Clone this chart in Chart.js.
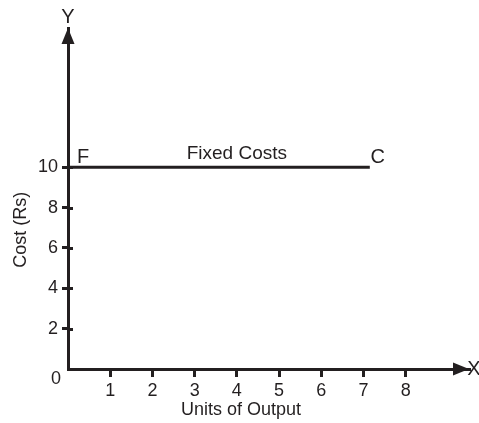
<!DOCTYPE html>
<html>
<head>
<meta charset="utf-8">
<script src="https://cdn.jsdelivr.net/npm/chart.js@4"></script>
<style>
  body { margin: 0; background: #fff; }
  canvas { display: block; }
</style>
</head>
<body>
<canvas id="costChart" width="479" height="423"></canvas>
<script>
// data
const units = [0, 7.15];
const fixedCost = [10, 10];
const xTicks = [1, 2, 3, 4, 5, 6, 7, 8];
const yTicks = [2, 4, 6, 8, 10];

const ink = '#231f20';
const family = '"Liberation Sans", Arial, sans-serif';

// arrows + text labels on top of the axes
const annotations = {
  id: 'annotations',
  afterDraw(chart) {
    const ctx = chart.ctx;
    const xs = chart.scales.x;
    const ys = chart.scales.y;
    const x0 = xs.getPixelForValue(0);
    const y0 = ys.getPixelForValue(0);
    const top = chart.chartArea.top;
    const right = chart.chartArea.right;

    ctx.save();
    ctx.fillStyle = ink;
    ctx.strokeStyle = ink;

    // y tick marks poke a little inside the axis too
    ctx.lineWidth = 3;
    yTicks.forEach(v => {
      const py = Math.round(ys.getPixelForValue(v)) + 0.5;
      ctx.beginPath();
      ctx.moveTo(x0, py);
      ctx.lineTo(x0 + 5, py);
      ctx.stroke();
    });

    // Y arrow
    ctx.beginPath();
    ctx.moveTo(x0, top);
    ctx.lineTo(x0 - 6.5, top + 16);
    ctx.lineTo(x0 + 6.5, top + 16);
    ctx.closePath();
    ctx.fill();

    // X arrow
    ctx.beginPath();
    ctx.moveTo(right, y0);
    ctx.lineTo(right - 16, y0 - 6.5);
    ctx.lineTo(right - 16, y0 + 6.5);
    ctx.closePath();
    ctx.fill();

    ctx.textBaseline = 'middle';
    ctx.textAlign = 'center';
    ctx.font = '20px ' + family;
    ctx.fillText('Y', x0, top - 11);
    ctx.fillText('X', right + 5, y0);

    const yLine = ys.getPixelForValue(fixedCost[0]);
    ctx.fillText('F', x0 + 15, yLine - 10);
    ctx.fillText('C', xs.getPixelForValue(units[1]) + 8, yLine - 10);

    ctx.font = '19px ' + family;
    ctx.fillText('Fixed Costs', xs.getPixelForValue(4), yLine - 13);

    ctx.font = '18px ' + family;
    ctx.fillText('0', x0 - 12, y0 + 10);
    ctx.fillText('Units of Output', xs.getPixelForValue(4.1), y0 + 41);

    // rotated y title
    ctx.translate(21, ys.getPixelForValue(6.9));
    ctx.rotate(-Math.PI / 2);
    ctx.fillText('Cost (Rs)', 0, 0);
    ctx.restore();
  }
};

new Chart(document.getElementById('costChart'), {
  type: 'scatter',
  data: {
    datasets: [{
      label: 'Fixed Costs',
      data: units.map((u, i) => ({ x: u, y: fixedCost[i] })),
      showLine: true,
      borderColor: ink,
      borderWidth: 3,
      pointRadius: 0
    }]
  },
  options: {
    responsive: false,
    animation: false,
    layout: { padding: { top: 28, right: 10, left: 0, bottom: 0 } },
    plugins: { legend: { display: false }, tooltip: { enabled: false } },
    scales: {
      x: {
        type: 'linear',
        min: 0,
        max: 9.5,
        afterBuildTicks: axis => { axis.ticks = xTicks.map(v => ({ value: v })); },
        afterFit: axis => { axis.height = 54; },
        border: { color: ink, width: 3 },
        grid: { drawOnChartArea: false, drawTicks: true, tickLength: 8, lineWidth: 3, color: ink },
        ticks: { color: ink, font: { size: 18, family: family }, padding: 3, maxRotation: 0 }
      },
      y: {
        type: 'linear',
        min: 0,
        max: 16.9,
        afterBuildTicks: axis => { axis.ticks = yTicks.map(v => ({ value: v })); },
        afterFit: axis => { axis.width = 68; },
        border: { color: ink, width: 3 },
        grid: { drawOnChartArea: false, drawTicks: true, tickLength: 6, lineWidth: 3, color: ink },
        ticks: { color: ink, font: { size: 18, family: family }, padding: 4 }
      }
    }
  },
  plugins: [annotations]
});
</script>
</body>
</html>
